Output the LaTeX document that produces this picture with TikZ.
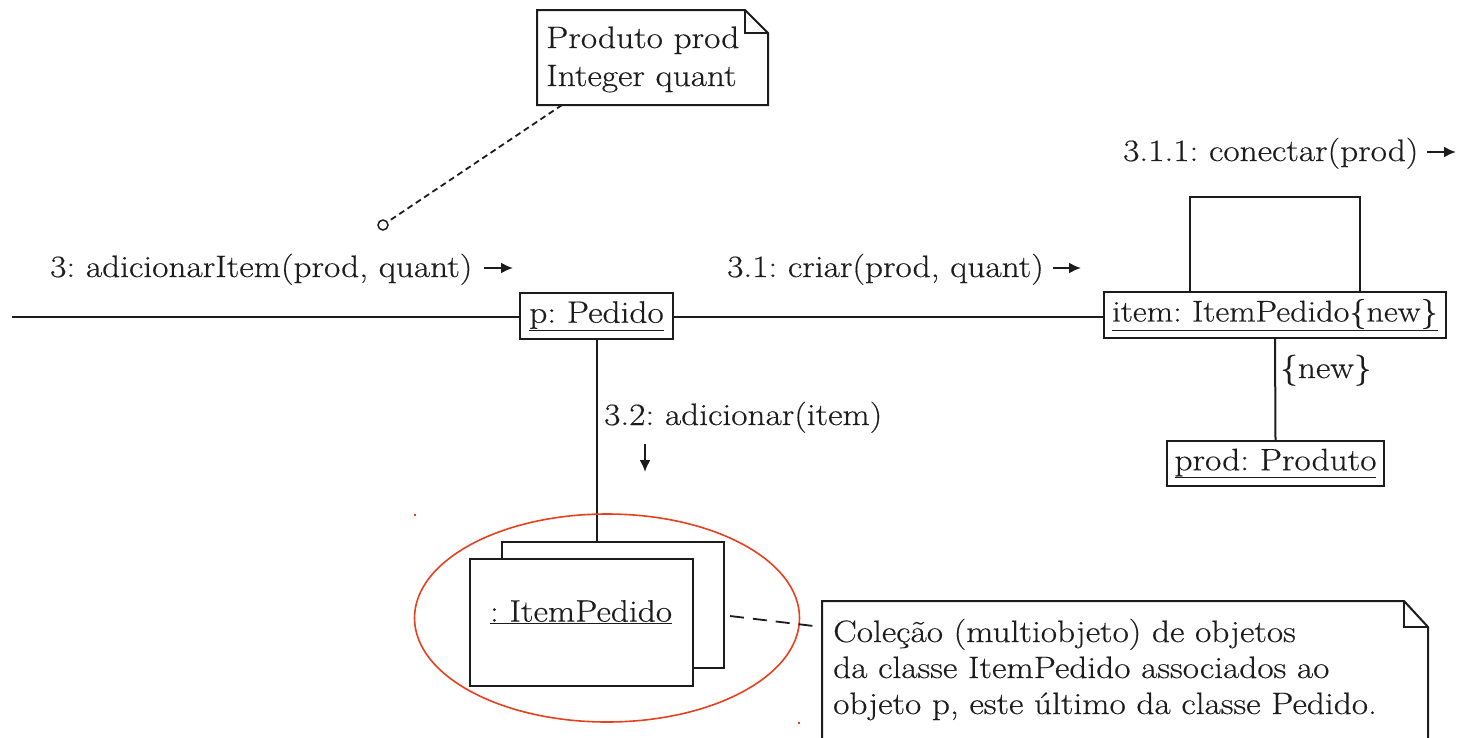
\documentclass[tikz,border=0pt]{standalone}
\usepackage{fontspec}
\setmainfont{Latin Modern Roman}[FakeStretch=1.14, FakeBold=0.4]
\usetikzlibrary{arrows.meta,calc,shapes.geometric}
\definecolor{ink}{HTML}{1C1C1C}
\definecolor{ovalred}{HTML}{E8401C}
\tikzset{
  every node/.style={font=\fontsize{31}{37}\selectfont\frenchspacing, text=ink},
  objbox/.style={draw=ink, line width=2pt, inner sep=0pt, fill=white},
  lbl/.style={anchor=base west, inner sep=0pt},
  conn/.style={draw=ink, line width=2pt},
  msgarrow/.style={draw=ink, line width=2pt, -{Latex[length=12pt,width=11pt]}},
  notedash/.style={draw=ink, line width=1.8pt, dash pattern=on 6pt off 4pt},
}
\begin{document}
\begin{tikzpicture}[x=1pt,y=-1pt]
\useasboundingbox (0,0) rectangle (1462,737);
\clip (0,0) rectangle (1462,737);

% top note
\draw[conn] (537,10) -- (745,10) -- (768,33) -- (768,105) -- (537,105) -- cycle;
\draw[conn] (745,10) -- (745,33) -- (768,33);
\node[lbl] (n1a) at (546,48) {Produto prod};
\node[lbl] (n1b) at (546,86) {Integer quant};
\coordinate (n1c) at (562,105);
\node[circle, draw=ink, line width=1.5pt, minimum size=10pt, inner sep=0pt] (ring) at (383,225) {};
\draw[notedash] (n1c) -- (ring);

% objects
\node[objbox, minimum width=153pt, minimum height=46pt] (p) at (596.5,316) {\underline{p: Pedido}};
\node[objbox, minimum width=342pt, minimum height=46pt, font=\fontsize{30}{37}\selectfont\frenchspacing] (item) at (1275,315) {\underline{item: ItemPedido\{new\}}};
\node[objbox, minimum width=217pt, minimum height=45pt] (prod) at (1275.5,463.5) {\underline{prod: Produto}};

% left incoming link
\coordinate (lstart) at (12,317);
\draw[conn] (lstart) -- (p.west |- lstart);
\draw[conn] (p.east |- lstart) -- (item.west |- lstart);

% self loop
\draw[conn] ([xshift=-85pt]item.north) |- (1360,197) -- ([xshift=85pt]item.north);
% item to prod
\draw[conn] (item.south) -- (prod.north);
\node[lbl] (newlbl) at (1280,378) {\{new\}};

% messages
\node[lbl] (m3) at (50,277) {3: adicionarItem(prod, quant)};
\draw[msgarrow] (484,268) -- (513,268);
\node[lbl] (m31) at (727,277) {3.1: criar(prod, quant)};
\draw[msgarrow] (1053,268) -- (1081,268);
\node[lbl] (m311) at (1123,161) {3.1.1: conectar(prod)};
\draw[msgarrow] (1427,152) -- (1456,152);
\node[lbl] (m32) at (604,425) {3.2: adicionar(item)};
\draw[msgarrow] (645,444) -- (645,472);

% multiobject
\node[objbox, minimum width=222pt, minimum height=126pt] (mback) at (613,605) {};
\node[objbox, minimum width=223pt, minimum height=127pt] (mfront) at (581.5,622.5) {};
\node (mtext) at (581,612) {\underline{: ItemPedido}};
\draw[conn] (p.south) -- (p.south |- mback.north);

% red oval
\node[ellipse, draw=ovalred, line width=1.6pt, minimum width=385pt, minimum height=208pt, inner sep=0pt] (oval) at (607,618) {};
\fill[ovalred] (414,514) rectangle (416,516);
\fill[ovalred] (798,722) rectangle (800,724);

% bottom note
\draw[conn] (822,745) -- (822,601) -- (1404,601) -- (1428,627) -- (1428,745);
\draw[conn] (1404,601) -- (1404,627) -- (1428,627);
\coordinate (n2c) at (822,627);
\coordinate (mc) at (730,616);
\draw[draw=ink, line width=1.8pt, dash pattern=on 14pt off 9pt] (mc) -- (n2c);
\node[lbl] (n2a) at (833,642) {Coleção (multiobjeto) de objetos};
\node[lbl] (n2b) at (833,678) {da classe ItemPedido associados ao};
\node[lbl] (n2d) at (833,714) {objeto p, este último da classe Pedido.};
\end{tikzpicture}
\end{document}
